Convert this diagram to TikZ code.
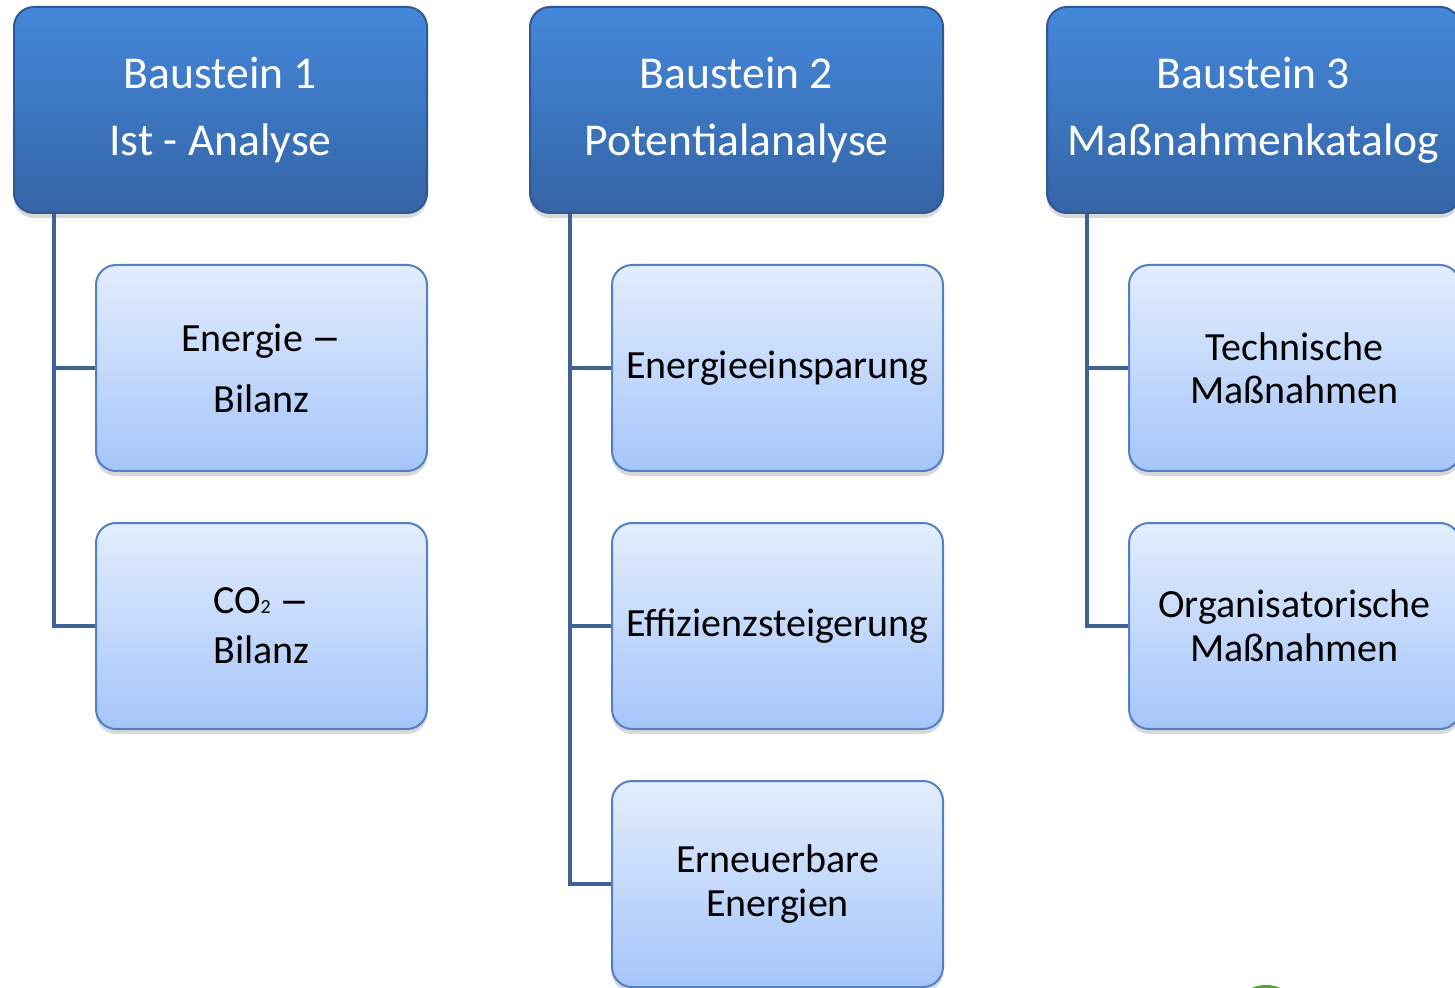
\documentclass[tikz,border=0pt]{standalone}
\usepackage{fontspec}
\usepackage{graphicx}
\setmainfont{Carlito}
\usetikzlibrary{shadows,calc}
\definecolor{hdtop}{RGB}{68,136,218}
\definecolor{hdbot}{RGB}{52,100,166}
\definecolor{hdborder}{RGB}{48,88,146}
\definecolor{chtop}{RGB}{227,237,253}
\definecolor{chbot}{RGB}{165,197,250}
\definecolor{chborder}{RGB}{82,128,196}
\definecolor{linecol}{RGB}{62,98,150}
\definecolor{greenbit}{RGB}{80,168,40}
\newcommand{\widedash}{\raisebox{-0.04em}{\scalebox{1.5}[1.15]{–}}}
\tikzset{
  header/.style={draw=hdborder, line width=1pt, rounded corners=10pt,
    top color=hdtop, bottom color=hdbot, text=white,
    minimum width=206.5pt, minimum height=103pt, inner sep=0pt, align=center,
    drop shadow={opacity=0.3, shadow xshift=0pt, shadow yshift=-2.5pt},
    font=\fontsize{22.8}{33.5}\selectfont},
  childbox/.style={draw=chborder, line width=1pt, rounded corners=10pt,
    top color=chtop, bottom color=chbot, text=black,
    minimum width=165.5pt, minimum height=103pt, inner sep=0pt, align=center,
    drop shadow={opacity=0.3, shadow xshift=0pt, shadow yshift=-2.5pt},
    font=\fontsize{20}{22}\selectfont},
  conn/.style={draw=linecol, line width=2pt}
}
\begin{document}
\begin{tikzpicture}[x=0.5pt,y=-0.5pt]
\useasboundingbox (0,0) rectangle (1455,988);
\clip (0,0) rectangle (1455,988);
\fill[white] (0,0) rectangle (1455,988);
% headers
\node[header] (h1) at (220.5,110) {Baustein 1\\Ist - Analyse};
\node[header] (h2) at (736.5,110) {Baustein 2\\Potentialanalyse};
\node[header] (h3) at (1253.5,110) {Baustein 3\\Maßnahmenkatalog};
% children
\node[childbox, font=\fontsize{20}{30.5}\selectfont] (c1a) at (261.5,368) {Energie \widedash\\Bilanz};
\node[childbox, font=\fontsize{20}{25}\selectfont] (c1b) at (261.5,626) {CO{\fontsize{10}{10}\selectfont 2} \widedash\\Bilanz};
\node[childbox] (c2a) at (777.5,368) {Energieeinsparung};
\node[childbox] (c2b) at (777.5,626) {Effizienzsteigerung};
\node[childbox] (c2c) at (777.5,884) {Erneuerbare\\Energien};
\node[childbox, font=\fontsize{20}{21.5}\selectfont] (c3a) at (1294.5,368) {Technische\\Maßnahmen};
\node[childbox] (c3b) at (1294.5,626) {Organisatorische\\Maßnahmen};
% trunk coordinates
\coordinate (t1) at ($(h1.south west)+(41,0)$);
\coordinate (t2) at ($(h2.south west)+(41,0)$);
\coordinate (t3) at ($(h3.south west)+(41,0)$);
% connectors
\draw[conn] (t1) |- (c1b.west);
\draw[conn] (t1 |- c1a.west) -- (c1a.west);
\draw[conn] (t2) |- (c2c.west);
\draw[conn] (t2 |- c2a.west) -- (c2a.west);
\draw[conn] (t2 |- c2b.west) -- (c2b.west);
\draw[conn] (t3) |- (c3b.west);
\draw[conn] (t3 |- c3a.west) -- (c3a.west);
% green fragment at the lower edge
\fill[greenbit] (1266,998) ellipse [x radius=22, y radius=13];
\end{tikzpicture}
\end{document}
